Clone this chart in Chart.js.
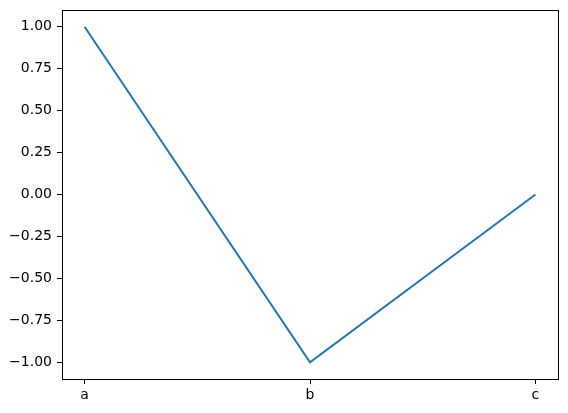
<!DOCTYPE html>
<html>
<head>
<meta charset="utf-8">
<script src="https://cdn.jsdelivr.net/npm/chart.js@4"></script>
<style>
html,body{margin:0;padding:0;background:#fff;}
canvas{display:block;}
</style>
</head>
<body>
<canvas id="c" width="568" height="413"></canvas>
<script>
const categories = ['a', 'b', 'c'];
const values = [1, -1, 0];
const yTicks = [-1, -0.75, -0.5, -0.25, 0, 0.25, 0.5, 0.75, 1];

const frame = {
  id: 'frame',
  afterDraw(chart) {
    const a = chart.chartArea, ctx = chart.ctx;
    ctx.save();
    ctx.strokeStyle = '#000';
    ctx.lineWidth = 1;
    ctx.strokeRect(Math.round(a.left) + 0.5, Math.round(a.top) + 0.5,
                   Math.round(a.right - a.left), Math.round(a.bottom - a.top));
    ctx.restore();
  }
};

const font = { family: 'DejaVu Sans', size: 14 };

new Chart(document.getElementById('c'), {
  type: 'line',
  data: {
    datasets: [{
      data: values.map((v, i) => ({ x: i, y: v })),
      borderColor: '#1f77b4',
      borderWidth: 2,
      pointRadius: 0,
      fill: false,
      tension: 0
    }]
  },
  options: {
    responsive: false,
    animation: false,
    layout: { padding: { top: 10, right: 10, left: 0, bottom: 0 } },
    plugins: { legend: { display: false }, tooltip: { enabled: false } },
    scales: {
      x: {
        type: 'linear',
        min: -0.1,
        max: 2.1,
        afterBuildTicks: s => { s.ticks = categories.map((_, i) => ({ value: i })); },
        afterFit: s => { s.height = 34; },
        ticks: { callback: v => categories[v], color: '#000', font, padding: 3, maxRotation: 0 },
        grid: { drawOnChartArea: false, drawTicks: true, tickLength: 5, color: '#000' },
        border: { display: true, color: '#000' }
      },
      y: {
        type: 'linear',
        min: -1.1,
        max: 1.1,
        afterBuildTicks: s => { s.ticks = yTicks.map(v => ({ value: v })); },
        afterFit: s => { s.width = 62; s.paddingTop = 0; s.paddingBottom = 0; },
        ticks: { callback: v => v.toFixed(2).replace('-', '\u2212'), color: '#000', font, padding: 5 },
        grid: { drawOnChartArea: false, drawTicks: true, tickLength: 5, color: '#000' },
        border: { display: true, color: '#000' }
      }
    }
  },
  plugins: [frame]
});
</script>
</body>
</html>
